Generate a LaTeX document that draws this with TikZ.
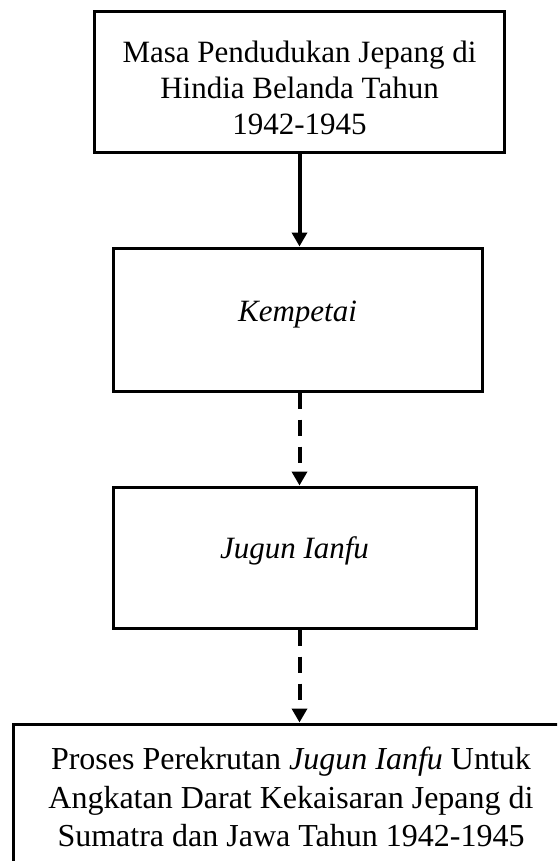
\documentclass[tikz,border=0pt]{standalone}
\usepackage{fontspec}
\setmainfont{Liberation Serif}
\usetikzlibrary{arrows.meta}
\begin{document}
\begin{tikzpicture}[x=1pt,y=-1pt,
  boxnode/.style={draw=black,line width=3pt,inner sep=0pt,fill=none},
  txt/.style={inner sep=0pt,align=center,font=\fontsize{31}{36}\selectfont},
  conn/.style={line width=4pt,-{Triangle[width=15pt,length=14pt]}},
  dashconn/.style={conn,dash pattern=on 16pt off 11pt}]
\useasboundingbox (0,0) rectangle (557,861);
\fill[white] (0,0) rectangle (557,861);
\begin{scope}
\clip (0,0) rectangle (557,861);
\node[boxnode,minimum width=410pt,minimum height=141pt] (b1) at (299.5,82.5) {};
\node[boxnode,minimum width=369pt,minimum height=143pt] (b2) at (297.5,319.5) {};
\node[boxnode,minimum width=363pt,minimum height=141pt] (b3) at (294.5,557.5) {};
\node[boxnode,minimum width=556pt,minimum height=142pt] (b4) at (291,795) {};
\end{scope}
\node[txt] (t1) at (299.5,88) {Masa Pendudukan Jepang di\\Hindia Belanda Tahun\\1942-1945};
\node[txt,anchor=base] (t2) at (297.5,321) {\itshape Kempetai};
\node[txt,anchor=base] (t3) at (294.5,558) {\itshape Jugun Ianfu};
\node[txt,font=\fontsize{32}{38.5}\selectfont] (t4) at (291,797) {Proses Perekrutan \textit{Jugun Ianfu} Untuk\\Angkatan Darat Kekaisaran Jepang di\\Sumatra dan Jawa Tahun 1942-1945};
\draw[conn] (b1.south) -- (b1.south |- b2.north);
\draw[dashconn] (b1.south |- b2.south) -- (b1.south |- b3.north);
\draw[dashconn] (b1.south |- b3.south) -- (b1.south |- b4.north);
\end{tikzpicture}
\end{document}
